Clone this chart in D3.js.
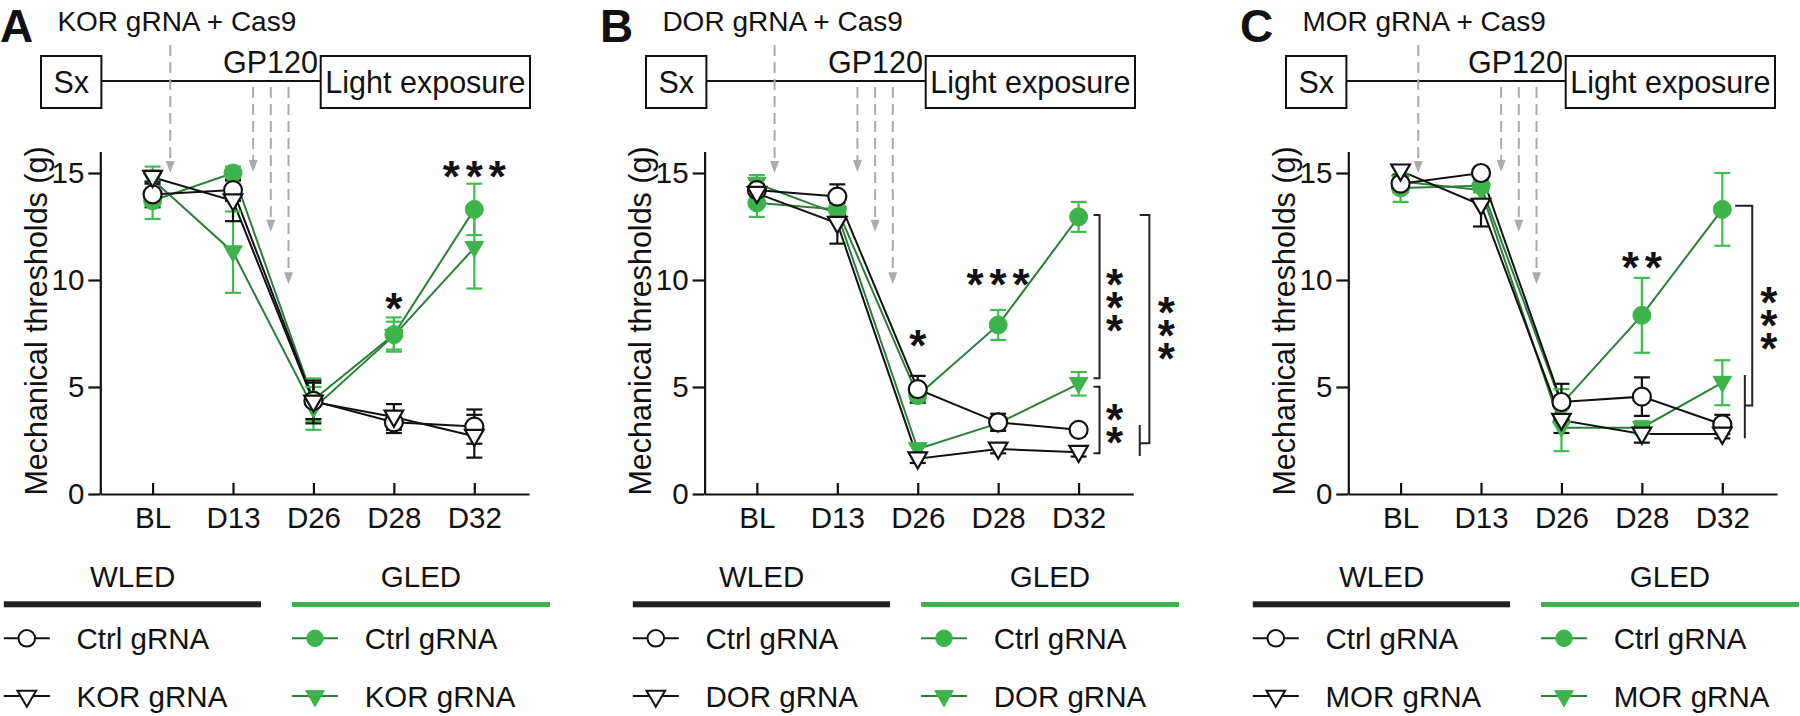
<!DOCTYPE html>
<html><head><meta charset="utf-8">
<script src="https://cdn.jsdelivr.net/npm/d3@7"></script>
<style>
body{margin:0;background:#fff}
svg{display:block}
text{font-family:"Liberation Sans",Arial,Helvetica,sans-serif;fill:#111}
</style>
</head><body>
<svg id="c" width="1800" height="716"></svg>
<script>
// ---------------- data ----------------
const categories = ["BL", "D13", "D26", "D28", "D32"];
const yTicks = [0, 5, 10, 15];
const panelLetters = ["A", "B", "C"];
const panelTitles = ["KOR gRNA + Cas9", "DOR gRNA + Cas9", "MOR gRNA + Cas9"];
const targetLabels = ["KOR gRNA", "DOR gRNA", "MOR gRNA"];
const groupLabels = ["WLED", "GLED"];
const ctrlLabel = "Ctrl gRNA";
const yTitle = "Mechanical thresholds (g)";
const timelineLabels = ["Sx", "GP120", "Light exposure"];

// Panel A (KOR)
const wledCtrlA = [14.0, 14.2, 4.35, 3.35, 3.15];
const wledCtrlAErr = [0.6, 0.5, 0.85, 0.5, 0.8];
const wledTargetA = [14.8, 13.7, 4.3, 3.6, 2.7];
const wledTargetAErr = [0.3, 0.95, 1.0, 0.6, 1.0];
const gledCtrlA = [13.7, 15.0, 4.4, 7.45, 13.3];
const gledCtrlAErr = [0.85, 0.3, 1.0, 0.8, 1.2];
const gledTargetA = [14.7, 11.3, 4.0, 7.4, 11.5];
const gledTargetAErr = [0.6, 1.9, 1.0, 0.65, 1.9];

// Panel B (DOR)
const wledCtrlB = [14.2, 13.9, 4.9, 3.35, 3.0];
const wledCtrlBErr = [0.5, 0.57, 0.62, 0.4, 0.15];
const wledTargetB = [14.05, 12.65, 1.65, 2.1, 1.95];
const wledTargetBErr = [0.4, 0.95, 0.2, 0.2, 0.2];
const gledCtrlB = [13.6, 13.3, 4.6, 7.9, 12.95];
const gledCtrlBErr = [0.65, 0.3, 0.35, 0.7, 0.7];
const gledTargetB = [14.5, 13.1, 2.1, 3.3, 5.15];
const gledTargetBErr = [0.4, 0.3, 0.2, 0.3, 0.55];

// Panel C (MOR)
const wledCtrlC = [14.5, 15.0, 4.3, 4.55, 3.25];
const wledCtrlCErr = [0.4, 0.15, 0.85, 0.9, 0.45];
const wledTargetC = [15.1, 13.5, 3.45, 2.8, 2.8];
const wledTargetCErr = [0.2, 1.0, 0.6, 0.4, 0.2];
const gledCtrlC = [14.3, 14.4, 4.2, 8.35, 13.3];
const gledCtrlCErr = [0.65, 0.3, 0.7, 1.75, 1.7];
const gledTargetC = [14.6, 14.2, 3.1, 3.1, 5.2];
const gledTargetCErr = [0.3, 0.4, 1.1, 0.3, 1.05];

// GP120 / timeline arrows (category index positions, arrow tip values)
const arrowIndex = [0.22, 1.25, 1.47, 1.69];
const arrowTip = [15.0, 15.05, 12.25, 9.8];

// significance marks above points: category index, value at centre, count
const starsA = [{i: 3, v: 9.1, n: 1}, {i: 4, v: 15.28, n: 3}];
const starsB = [{i: 2, v: 7.35, n: 1}, {i: 3, v: 10.23, n: 3}];
const starsC = [{i: 3, v: 11.0, n: 2}];

// brackets (index position, value range, star stack)
const bracketsA = [];
const bracketsB = [
  {i: 4.26, top: 13.04, bot: 5.41, si: 4.447, sv: 9.14, n: 3},
  {i: 4.26, top: 5.01, bot: 1.9, si: 4.447, sv: 3.38, n: 2},
  {i: 4.88, ti: 4.76, top: 13.04, bot: 2.37, sub: {i: 4.76, top: 3.22, bot: 1.78}, si: 5.09, sv: 7.82, n: 3}
];
const bracketsC = [
  {i: 4.372, ti: 4.16, top: 13.47, bot: 4.13, sub: {i: 4.28, top: 5.56, bot: 2.6}, si: 4.577, sv: 8.29, n: 3}
];

// ---------------- layout ----------------
const panels = [
  {wc: wledCtrlA, wce: wledCtrlAErr, wt: wledTargetA, wte: wledTargetAErr,
   gc: gledCtrlA, gce: gledCtrlAErr, gt: gledTargetA, gte: gledTargetAErr, stars: starsA, brackets: bracketsA},
  {wc: wledCtrlB, wce: wledCtrlBErr, wt: wledTargetB, wte: wledTargetBErr,
   gc: gledCtrlB, gce: gledCtrlBErr, gt: gledTargetB, gte: gledTargetBErr, stars: starsB, brackets: bracketsB},
  {wc: wledCtrlC, wce: wledCtrlCErr, wt: wledTargetC, wte: wledTargetCErr,
   gc: gledCtrlC, gce: gledCtrlCErr, gt: gledTargetC, gte: gledTargetCErr, stars: starsC, brackets: bracketsC}
];
const plotX = [0, 604.3, 1248];
const headX = [0, 605, 1245];
const legX = [0, 629, 1249];
const letterX = [0, 600, 1240];

const BLACK = "#111";
const GREEN = "#3cb44b";
const GREEN_LINE = "#2b7f38";
const GREEN_ERR = "#3dbd4e";
const GREY = "#a9abae";
const FS = 29.5;
const STAR_FS = 44, STAR_PITCH = 23;

const svg = d3.select("#c");

function starsRow(g, cx, cy, n) {
  for (let k = 0; k < n; k++) {
    const off = (k - (n - 1) / 2) * STAR_PITCH;
    g.append("text")
      .attr("x", cx + off)
      .attr("y", cy + 0.56 * STAR_FS)
      .attr("text-anchor", "middle")
      .attr("font-size", STAR_FS).attr("font-weight", "bold")
      .text("*");
  }
}

panels.forEach((p, k) => {
  const ox = plotX[k], hx = headX[k], lx = legX[k];
  const g = svg.append("g");
  const x = d3.scaleLinear().domain([-0.65, 4.68]).range([ox + 100.3, ox + 529]);
  const y = d3.scaleLinear().domain([0, 16]).range([494, 151.6]);

  // ---- header ----
  g.append("text").attr("x", letterX[k]).attr("y", 42).attr("font-size", 46)
    .attr("font-weight", "bold").text(panelLetters[k]);
  g.append("text").attr("x", hx + 57.4).attr("y", 31).attr("font-size", 28)
    .text(panelTitles[k]);
  g.append("rect").attr("x", hx + 41).attr("y", 56).attr("width", 60.4).attr("height", 52)
    .attr("fill", "none").attr("stroke", BLACK).attr("stroke-width", 2);
  g.append("rect").attr("x", hx + 320.7).attr("y", 56).attr("width", 209.3).attr("height", 52)
    .attr("fill", "none").attr("stroke", BLACK).attr("stroke-width", 2);
  g.append("line").attr("x1", hx + 101.4).attr("x2", hx + 320.7).attr("y1", 81).attr("y2", 81)
    .attr("stroke", BLACK).attr("stroke-width", 2);
  g.append("text").attr("x", hx + 71.2).attr("y", 93).attr("text-anchor", "middle")
    .attr("font-size", 30.5).text(timelineLabels[0]);
  g.append("text").attr("x", hx + 318).attr("y", 73).attr("text-anchor", "end")
    .attr("font-size", 30.5).text(timelineLabels[1]);
  g.append("text").attr("x", hx + 425.4).attr("y", 93).attr("text-anchor", "middle")
    .attr("font-size", 30.5).text(timelineLabels[2]);

  // ---- arrows ----
  arrowIndex.forEach((ai, j) => {
    const ax = x(ai), y1 = j === 0 ? 45 : 87, y2 = y(arrowTip[j]);
    g.append("line").attr("x1", ax).attr("x2", ax).attr("y1", y1).attr("y2", y2 - 10)
      .attr("stroke", GREY).attr("stroke-width", 2).attr("stroke-dasharray", "11,6");
    g.append("path").attr("d", `M${ax - 4.5},${y2 - 12}L${ax + 4.5},${y2 - 12}L${ax},${y2}Z`)
      .attr("fill", GREY);
  });

  // ---- axes ----
  const ya = g.append("g").attr("transform", `translate(${ox + 100.3},0)`)
    .call(d3.axisLeft(y).tickValues(yTicks).tickSize(12).tickSizeOuter(0).tickPadding(4));
  const xa = g.append("g").attr("transform", `translate(0,494)`)
    .call(d3.axisBottom(x).tickValues([0, 1, 2, 3, 4]).tickSize(-11).tickSizeOuter(0)
      .tickPadding(12.7).tickFormat(i => categories[i]));
  [ya, xa].forEach(a => {
    a.selectAll("path,line").attr("stroke", BLACK).attr("stroke-width", 2.2);
    a.selectAll("text").attr("font-size", FS).attr("fill", BLACK)
      .attr("font-family", '"Liberation Sans",Arial,sans-serif');
  });
  g.append("text").attr("transform", `translate(${ox + 47},321) rotate(-90)`)
    .attr("text-anchor", "middle").attr("font-size", 30.5).text(yTitle);

  // ---- series ----
  const series = [
    {v: p.gc, e: p.gce, shape: "circle", color: GREEN, line: GREEN_LINE, err: GREEN_ERR, open: false},
    {v: p.gt, e: p.gte, shape: "tri", color: GREEN, line: GREEN_LINE, err: GREEN_ERR, open: false},
    {v: p.wc, e: p.wce, shape: "circle", color: BLACK, line: BLACK, err: BLACK, open: true},
    {v: p.wt, e: p.wte, shape: "tri", color: BLACK, line: BLACK, err: BLACK, open: true}
  ];
  const line = d3.line().x((d, i) => x(i)).y(d => y(d));
  series.forEach(s => {
    g.append("path").attr("d", line(s.v)).attr("fill", "none")
      .attr("stroke", s.line).attr("stroke-width", 2);
  });
  series.forEach(s => {
    s.v.forEach((v, i) => {
      const cx = x(i), hi = y(v + s.e[i]), lo = y(v - s.e[i]);
      const eb = g.append("g").attr("stroke", s.err).attr("stroke-width", 2.2);
      eb.append("line").attr("x1", cx).attr("x2", cx).attr("y1", hi).attr("y2", lo);
      eb.append("line").attr("x1", cx - 8).attr("x2", cx + 8).attr("y1", hi).attr("y2", hi);
      eb.append("line").attr("x1", cx - 8).attr("x2", cx + 8).attr("y1", lo).attr("y2", lo);
    });
  });
  const circ = d3.symbol(d3.symbolCircle, Math.PI * 9 * 9);
  const tri = d3.symbol(d3.symbolTriangle, 150);
  series.forEach(s => {
    s.v.forEach((v, i) => {
      const m = g.append("path")
        .attr("d", s.shape === "circle" ? circ() : tri())
        .attr("transform", `translate(${x(i)},${y(v) + (s.shape === "tri" ? -1 : 0)})` + (s.shape === "tri" ? " rotate(180)" : ""));
      if (s.open) m.attr("fill", "#fff").attr("stroke", BLACK).attr("stroke-width", 2.2);
      else m.attr("fill", s.color).attr("stroke", s.color).attr("stroke-width", 1);
    });
  });

  // ---- stars over points ----
  p.stars.forEach(st => starsRow(g, x(st.i), y(st.v), st.n));

  // ---- brackets ----
  p.brackets.forEach(b => {
    const bx = x(b.i), tx = b.ti !== undefined ? x(b.ti) : bx - 6;
    let d = `M${tx},${y(b.top)}H${bx}V${y(b.bot)}`;
    if (b.sub) {
      const sx = x(b.sub.i);
      d += `H${sx}M${sx},${y(b.sub.top)}V${y(b.sub.bot)}`;
    } else {
      d += `H${bx - 6}`;
    }
    g.append("path").attr("d", d).attr("fill", "none").attr("stroke", "#222").attr("stroke-width", 2);
    // vertical star stack: one text element, glyphs kept upright
    const t = g.append("text")
      .attr("font-size", STAR_FS).attr("font-weight", "bold")
      .text("*".repeat(b.n));
    const adv = t.node().getComputedTextLength() / b.n;
    const ls = STAR_PITCH - adv;
    const span = (b.n - 1) * STAR_PITCH;
    t.attr("letter-spacing", ls)
      .attr("rotate", d3.range(b.n).map(() => -90).join(" "))
      .attr("x", 0).attr("y", 0)
      .attr("transform", `translate(${x(b.si)},${y(b.sv)}) rotate(90) translate(${-span / 2 + 0.56 * STAR_FS},${adv / 2})`);
  });

  // ---- legend ----
  const lg = svg.append("g");
  lg.append("text").attr("x", lx + 132.6).attr("y", 587).attr("text-anchor", "middle")
    .attr("font-size", FS).attr("fill", "#222").text(groupLabels[0]);
  lg.append("text").attr("x", lx + 421).attr("y", 587).attr("text-anchor", "middle")
    .attr("font-size", FS).attr("fill", "#222").text(groupLabels[1]);
  lg.append("rect").attr("x", lx + 3.8).attr("y", 601.3).attr("width", 257.2).attr("height", 6).attr("fill", "#222");
  lg.append("rect").attr("x", lx + 292).attr("y", 602).attr("width", 258).attr("height", 5).attr("fill", GREEN);
  const rows = [638.3, 696];
  const legItems = [
    {col: 0, row: 0, shape: "circle", open: true, label: ctrlLabel},
    {col: 0, row: 1, shape: "tri", open: true, label: targetLabels[k]},
    {col: 1, row: 0, shape: "circle", open: false, label: ctrlLabel},
    {col: 1, row: 1, shape: "tri", open: false, label: targetLabels[k]}
  ];
  const lcirc = d3.symbol(d3.symbolCircle, Math.PI * 8.3 * 8.3);
  legItems.forEach(it => {
    const x0 = lx + (it.col === 0 ? 3.8 : 292), ry = rows[it.row];
    lg.append("line").attr("x1", x0).attr("x2", x0 + 46).attr("y1", ry).attr("y2", ry)
      .attr("stroke", it.open ? BLACK : GREEN_LINE).attr("stroke-width", 2);
    const m = lg.append("path").attr("d", it.shape === "circle" ? lcirc() : tri())
      .attr("transform", `translate(${x0 + 23},${ry})` + (it.shape === "tri" ? " rotate(180)" : ""));
    if (it.open) m.attr("fill", "#fff").attr("stroke", BLACK).attr("stroke-width", 2);
    else m.attr("fill", GREEN).attr("stroke", GREEN).attr("stroke-width", 1);
    lg.append("text").attr("x", x0 + 72.7).attr("y", ry + 11).attr("font-size", FS).text(it.label);
  });
});
</script>
</body></html>
